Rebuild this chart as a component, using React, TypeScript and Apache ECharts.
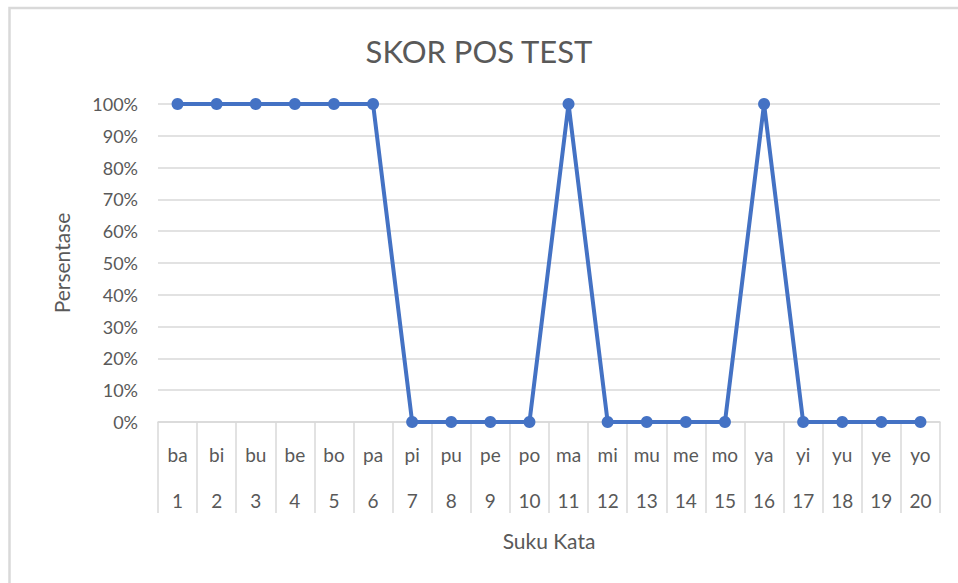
import React, { useEffect, useRef } from "react";
import * as echarts from "echarts";

const syllables = ["ba","bi","bu","be","bo","pa","pi","pu","pe","po","ma","mi","mu","me","mo","ya","yi","yu","ye","yo"];
const numbers = ["1","2","3","4","5","6","7","8","9","10","11","12","13","14","15","16","17","18","19","20"];
const scores = [100,100,100,100,100,100,0,0,0,0,100,0,0,0,0,100,0,0,0,0];

const FONT = "Lato, 'Open Sans', sans-serif";
const TXT = "#595959";

export default function App() {
  const ref = useRef<HTMLDivElement>(null);
  useEffect(() => {
    const chart = echarts.init(ref.current!, null, { renderer: "svg" });
    chart.setOption({
      animation: false,
      backgroundColor: "#fff",
      textStyle: { fontFamily: FONT },
      title: {
        text: "SKOR POS TEST",
        left: "center",
        top: 30,
        textStyle: { fontFamily: FONT, fontSize: 31, fontWeight: "normal", color: TXT },
      },
      graphic: [
        {
          type: "rect",
          shape: { x: 9.5, y: 8, width: 1000, height: 640 },
          style: { fill: "none", stroke: "#d9d9d9", lineWidth: 2.5 },
          silent: true,
        },
      ],
      grid: { left: 158, right: 18, top: 104, bottom: 161 },
      xAxis: {
        type: "category",
        data: syllables.map((s, i) => s + "|" + numbers[i]),
        boundaryGap: true,
        name: "Suku Kata",
        nameLocation: "middle",
        nameGap: 108,
        nameTextStyle: { fontFamily: FONT, fontSize: 21, color: TXT },
        axisLine: { lineStyle: { color: "#d9d9d9", width: 1.5 } },
        axisTick: { show: true, interval: 0, length: 91, lineStyle: { color: "#d9d9d9", width: 1.5 } },
        axisLabel: {
          interval: 0,
          margin: 9,
          color: TXT,
          fontFamily: FONT,
          fontSize: 19,
          lineHeight: 46,
          formatter: (v: string) => {
            const [a, b] = v.split("|");
            return a + "\n" + b;
          },
        },
      },
      yAxis: {
        type: "value",
        min: 0,
        max: 100,
        interval: 10,
        name: "Persentase",
        nameLocation: "middle",
        nameGap: 86,
        nameRotate: 90,
        nameTextStyle: { fontFamily: FONT, fontSize: 21, color: TXT },
        axisLine: { show: false },
        axisTick: { show: false },
        axisLabel: { formatter: "{value}%", color: TXT, fontFamily: FONT, fontSize: 18, margin: 20 },
        splitLine: { lineStyle: { color: "#d9d9d9", width: 1.5 } },
      },
      series: [
        {
          type: "line",
          data: scores,
          symbol: "circle",
          symbolSize: 12,
          itemStyle: { color: "#4472C4" },
          lineStyle: { color: "#4472C4", width: 4 },
        },
      ],
    });
    return () => chart.dispose();
  }, []);
  return <div ref={ref} style={{ position: "absolute", left: 0, top: 0, width: 958, height: 583 }} />;
}
